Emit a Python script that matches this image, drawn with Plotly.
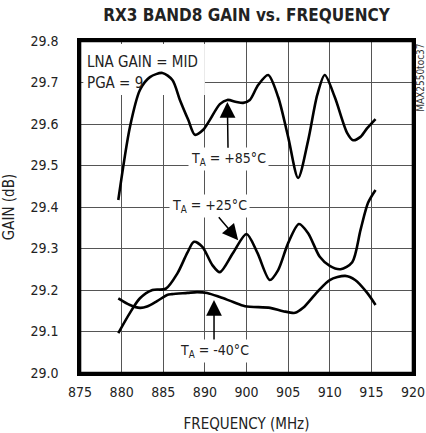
import plotly.graph_objects as go

# Tick labels as printed on the reference axis (note: 895 is absent in the original)
x_tickvals = [875, 880, 885, 890, 895, 900, 905, 910, 915]
x_ticktext = ["875", "880", "885", "890", "900", "905", "910", "915", "920"]
y_tickvals = [29.0, 29.1, 29.2, 29.3, 29.4, 29.5, 29.6, 29.7, 29.8]

# TA = +85C
hot_x = [879.6, 881.0, 882.2, 883.4, 884.9, 886.1, 887.0, 888.0, 888.8, 889.8, 890.6,
         891.8, 892.7, 893.8, 894.6, 895.4, 896.4, 897.6, 898.8, 900.0, 901.2, 902.4,
         903.5, 904.4, 905.6, 907.1, 907.8, 908.7, 909.5, 910.5]
hot_y = [29.417, 29.593, 29.682, 29.713, 29.723, 29.706, 29.658, 29.61, 29.574, 29.586, 29.61,
         29.648, 29.658, 29.653, 29.651, 29.658, 29.694, 29.718, 29.665, 29.569, 29.47, 29.56,
         29.67, 29.718, 29.665, 29.578, 29.561, 29.569, 29.59, 29.612]

# TA = +25C
room_x = [879.6, 881.0, 882.2, 883.7, 885.3, 886.7, 887.9, 888.7, 889.7, 890.9, 891.8,
          893.4, 895.0, 896.3, 897.8, 898.8, 900.0, 901.3, 902.4, 903.8, 905.0, 906.3,
          907.7, 908.7, 909.6, 910.5]
room_y = [29.096, 29.145, 29.18, 29.2, 29.203, 29.24, 29.29, 29.316, 29.304, 29.26, 29.243,
          29.29, 29.335, 29.29, 29.224, 29.248, 29.313, 29.359, 29.337, 29.28, 29.258, 29.25,
          29.267, 29.345, 29.41, 29.441]

# TA = -40C
cold_x = [879.6, 881.0, 882.2, 883.05, 884.25, 885.46, 886.06, 887.9, 889.06, 890.27, 891.8,
          893.4, 894.83, 897.84, 899.4, 900.84, 901.8, 903.49, 905.0, 906.85, 908.05, 909.5, 910.5]
cold_y = [29.18, 29.164, 29.157, 29.16, 29.173, 29.188, 29.19, 29.193, 29.195, 29.193, 29.183,
          29.171, 29.161, 29.157, 29.149, 29.145, 29.157, 29.195, 29.224, 29.234, 29.224, 29.193, 29.164]

FONT = "DejaVu Sans Condensed, Liberation Sans Narrow, Arial Narrow, sans-serif"
TXT = "#222"

fig = go.Figure()
for xs, ys in [(hot_x, hot_y), (room_x, room_y), (cold_x, cold_y)]:
    fig.add_trace(go.Scatter(x=xs, y=ys, mode="lines",
                             line=dict(color="black", width=2.6, shape="spline", smoothing=0.8),
                             showlegend=False, hoverinfo="skip"))

# white box behind the condition text (breaks the grid, but not the curve)
fig.add_shape(type="rect", xref="x", yref="y", x0=875.4, x1=890.0, y0=29.67, y1=29.793,
              fillcolor="white", line=dict(width=0), layer="between")
# plot frame
fig.add_shape(type="rect", xref="paper", yref="paper", x0=0, x1=1, y0=0, y1=1,
              line=dict(color="black", width=2.6), fillcolor="rgba(0,0,0,0)", layer="above")

label_font = dict(family=FONT, size=14, color=TXT)
annos = []
annos.append(dict(x=875.6, y=29.75, xref="x", yref="y", text="LNA GAIN = MID", showarrow=False,
                  xanchor="left", yanchor="middle", font=dict(label_font, size=15)))
annos.append(dict(x=875.6, y=29.70, xref="x", yref="y", text="PGA = 9", showarrow=False,
                  xanchor="left", yanchor="middle", font=dict(label_font, size=15)))

arrow = dict(showarrow=True, arrowhead=2, arrowsize=2.1, arrowwidth=1.5, arrowcolor="black",
             xref="x", yref="y", axref="x", ayref="y", font=label_font, bgcolor="white",
             borderpad=2, standoff=0)
annos.append(dict(arrow, text="T<sub>A</sub> = +85°C", x=892.7, y=29.653, ax=892.8, ay=29.515))
annos.append(dict(arrow, text="T<sub>A</sub> = +25°C", x=894.0, y=29.320, ax=890.5, ay=29.403))
annos.append(dict(arrow, text="T<sub>A</sub> = -40°C", x=891.1, y=29.176, ax=891.1, ay=29.053))

# side code
annos.append(dict(x=1.022, y=0.89, xref="paper", yref="paper", text="MAX2550toc37", showarrow=False,
                  textangle=-90, xanchor="center", yanchor="middle",
                  font=dict(family=FONT, size=10, color="#333")))

axis_common = dict(showgrid=True, gridcolor="#555555", gridwidth=1,
                   showline=True, linecolor="black", linewidth=2.6, mirror=True,
                   zeroline=False, tickcolor="rgba(0,0,0,0)", ticks="outside",
                   tickfont=dict(size=14, family=FONT, color=TXT))

fig.update_layout(
    template="none",
    width=426, height=433,
    margin=dict(l=80, r=13, t=41, b=60),
    paper_bgcolor="white", plot_bgcolor="white",
    title=dict(text="<b>RX3 BAND8 GAIN vs. FREQUENCY</b>", x=0.5, xref="paper", xanchor="center",
               y=0.965, yref="container", yanchor="middle", pad=dict(t=0, b=0),
               font=dict(family=FONT, size=17, color=TXT)),
    annotations=annos,
    font=dict(family=FONT, size=14, color=TXT),
    xaxis=dict(axis_common, range=[875, 915], tickvals=x_tickvals, ticktext=x_ticktext, ticklen=5,
               title=dict(text="FREQUENCY (MHz)", standoff=19, font=dict(size=15))),
    yaxis=dict(axis_common, range=[29.0, 29.8], tickvals=y_tickvals, tickformat=".1f", ticklen=16,
               title=dict(text="GAIN (dB)", standoff=14, font=dict(size=15))),
)

fig.write_html("out.html",
               config={"displayModeBar": False, "staticPlot": True},
               post_script="document.body.style.margin='0';document.body.style.overflow='hidden';")
